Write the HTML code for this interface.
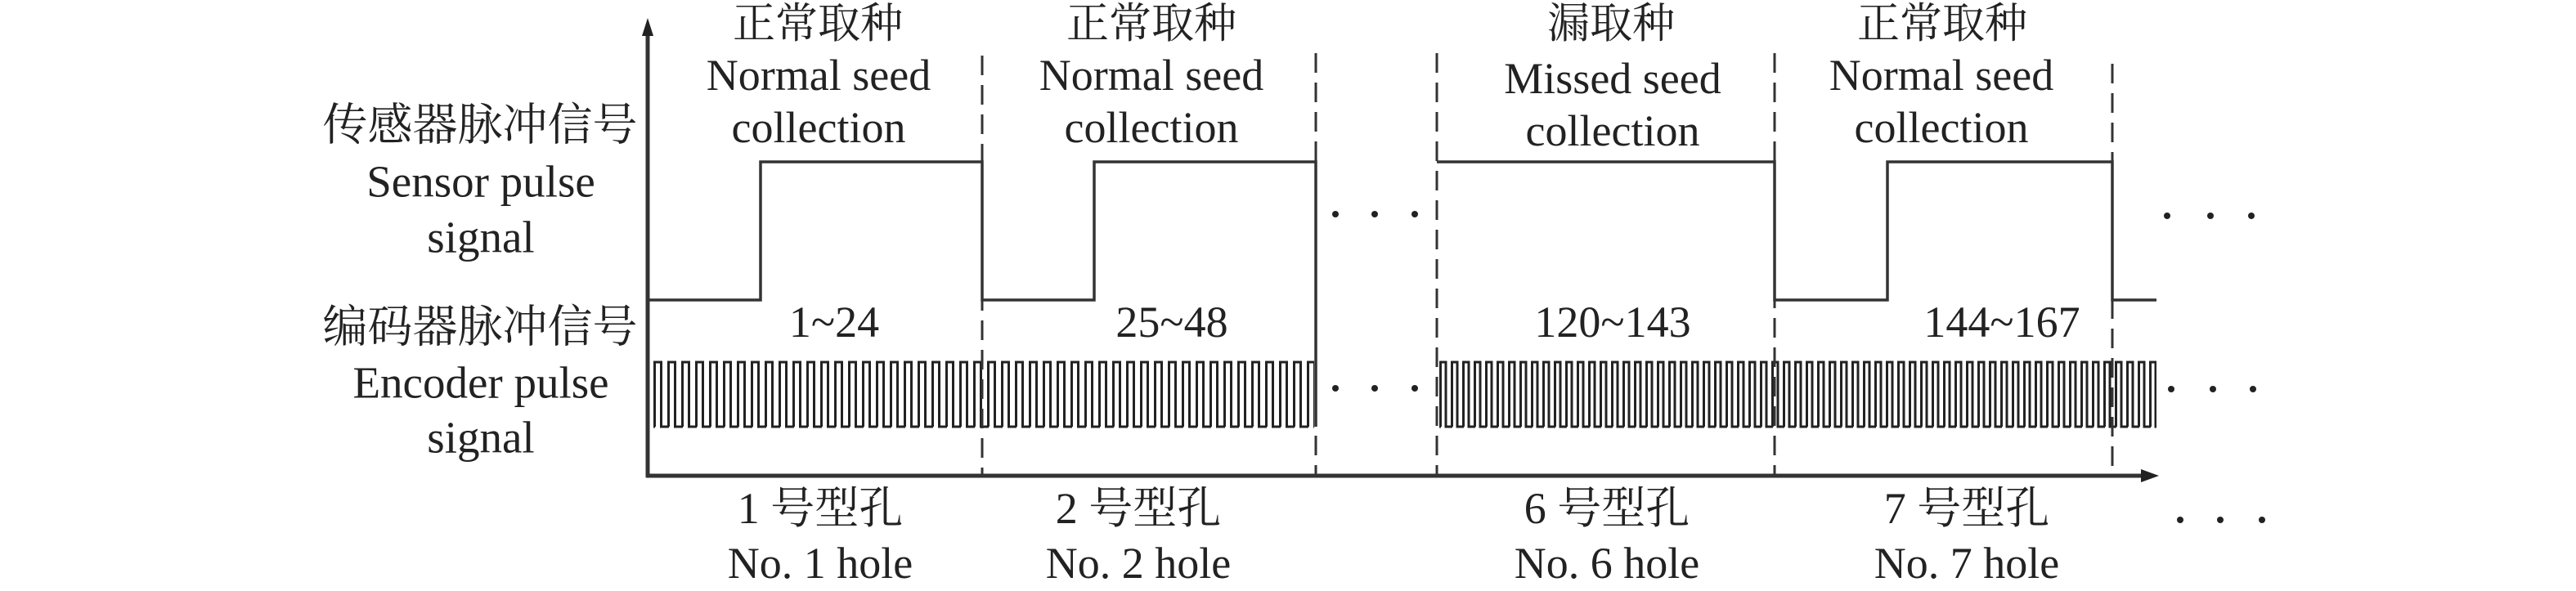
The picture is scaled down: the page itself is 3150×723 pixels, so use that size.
<!DOCTYPE html>
<html><head><meta charset="utf-8"><style>
html,body{margin:0;padding:0;background:#fff;}
svg{display:block}
text{font-family:"Liberation Serif","Noto Serif CJK SC",serif;fill:#222;text-anchor:middle;dominant-baseline:central}
</style></head><body>
<svg width="3150" height="723" viewBox="0 0 3150 723" xmlns="http://www.w3.org/2000/svg">
<defs>
<pattern id="p1" x="799" y="0" width="17" height="723" patternUnits="userSpaceOnUse">
<path d="M1.5,522 V443 H9.5 V522 H17" fill="none" stroke="#222" stroke-width="3"/>
<path d="M0,522 H2" stroke="#222" stroke-width="3"/>
</pattern>
<pattern id="p2" x="1760" y="0" width="14" height="723" patternUnits="userSpaceOnUse">
<path d="M1.5,522 V443 H8 V522 H14" fill="none" stroke="#222" stroke-width="3"/>
<path d="M0,522 H2" stroke="#222" stroke-width="3"/>
</pattern>
</defs>
<rect x="799" y="440" width="808" height="85" fill="url(#p1)"/>
<rect x="1760" y="440" width="877" height="85" fill="url(#p2)"/>
<g stroke="#333" stroke-width="3" stroke-dasharray="24,12">
<line x1="1201" y1="68" x2="1201" y2="582"/>
<line x1="1609" y1="65" x2="1609" y2="582"/>
<line x1="1757" y1="65" x2="1757" y2="582"/>
<line x1="2170" y1="65" x2="2170" y2="582"/>
<line x1="2583" y1="78" x2="2583" y2="582"/>
</g>
<g fill="none" stroke="#333" stroke-width="3.5">
<path d="M792,367 H930 V198 H1201 V367 H1338 V198 H1609 V522"/>
<path d="M1757,198 H2170 V367 H2308 V198 H2583 V367 H2637"/>
</g>
<line x1="792" y1="36" x2="792" y2="584" stroke="#333" stroke-width="5"/>
<polygon points="792,22 785,44 799,44" fill="#222"/>
<line x1="790" y1="582" x2="2625" y2="582" stroke="#333" stroke-width="5"/>
<polygon points="2640,582 2618,574 2618,590" fill="#222"/>
<g fill="#222">
<circle cx="1633" cy="262" r="4"/><circle cx="1681" cy="262" r="4"/><circle cx="1730" cy="262" r="4"/>
<circle cx="1633" cy="475" r="4"/><circle cx="1681" cy="475" r="4"/><circle cx="1730" cy="475" r="4"/>
<circle cx="2650" cy="264" r="4"/><circle cx="2703" cy="264" r="4"/><circle cx="2753" cy="264" r="4"/>
<circle cx="2655" cy="476" r="4"/><circle cx="2706" cy="476" r="4"/><circle cx="2755" cy="476" r="4"/>
<circle cx="2666" cy="636" r="4"/><circle cx="2715" cy="636" r="4"/><circle cx="2766" cy="636" r="4"/>
</g>
<g font-size="55">
<text x="587" y="153">传感器脉冲信号</text>
<text x="588" y="222">Sensor pulse</text>
<text x="588" y="290">signal</text>
<text x="587" y="400">编码器脉冲信号</text>
<text x="588" y="468">Encoder pulse</text>
<text x="588" y="535">signal</text>
</g>
<g font-size="52">
<text x="1000" y="30">正常取种</text>
<text x="1408" y="30">正常取种</text>
<text x="1970" y="30">漏取种</text>
<text x="2375" y="30">正常取种</text>
</g>
<g font-size="54">
<text x="1001" y="92">Normal seed</text>
<text x="1001" y="156">collection</text>
<text x="1408" y="92">Normal seed</text>
<text x="1408" y="156">collection</text>
<text x="1972" y="96">Missed seed</text>
<text x="1972" y="160">collection</text>
<text x="2374" y="92">Normal seed</text>
<text x="2374" y="156">collection</text>
<text x="1020" y="394">1~24</text>
<text x="1433" y="394">25~48</text>
<text x="1972" y="394">120~143</text>
<text x="2448" y="394">144~167</text>
<text x="1003" y="622">1 号型孔</text>
<text x="1392" y="622">2 号型孔</text>
<text x="1965" y="622">6 号型孔</text>
<text x="2405" y="622">7 号型孔</text>
<text x="1003" y="689">No. 1 hole</text>
<text x="1392" y="689">No. 2 hole</text>
<text x="1965" y="689">No. 6 hole</text>
<text x="2405" y="689">No. 7 hole</text>
</g>
</svg>
</body></html>
